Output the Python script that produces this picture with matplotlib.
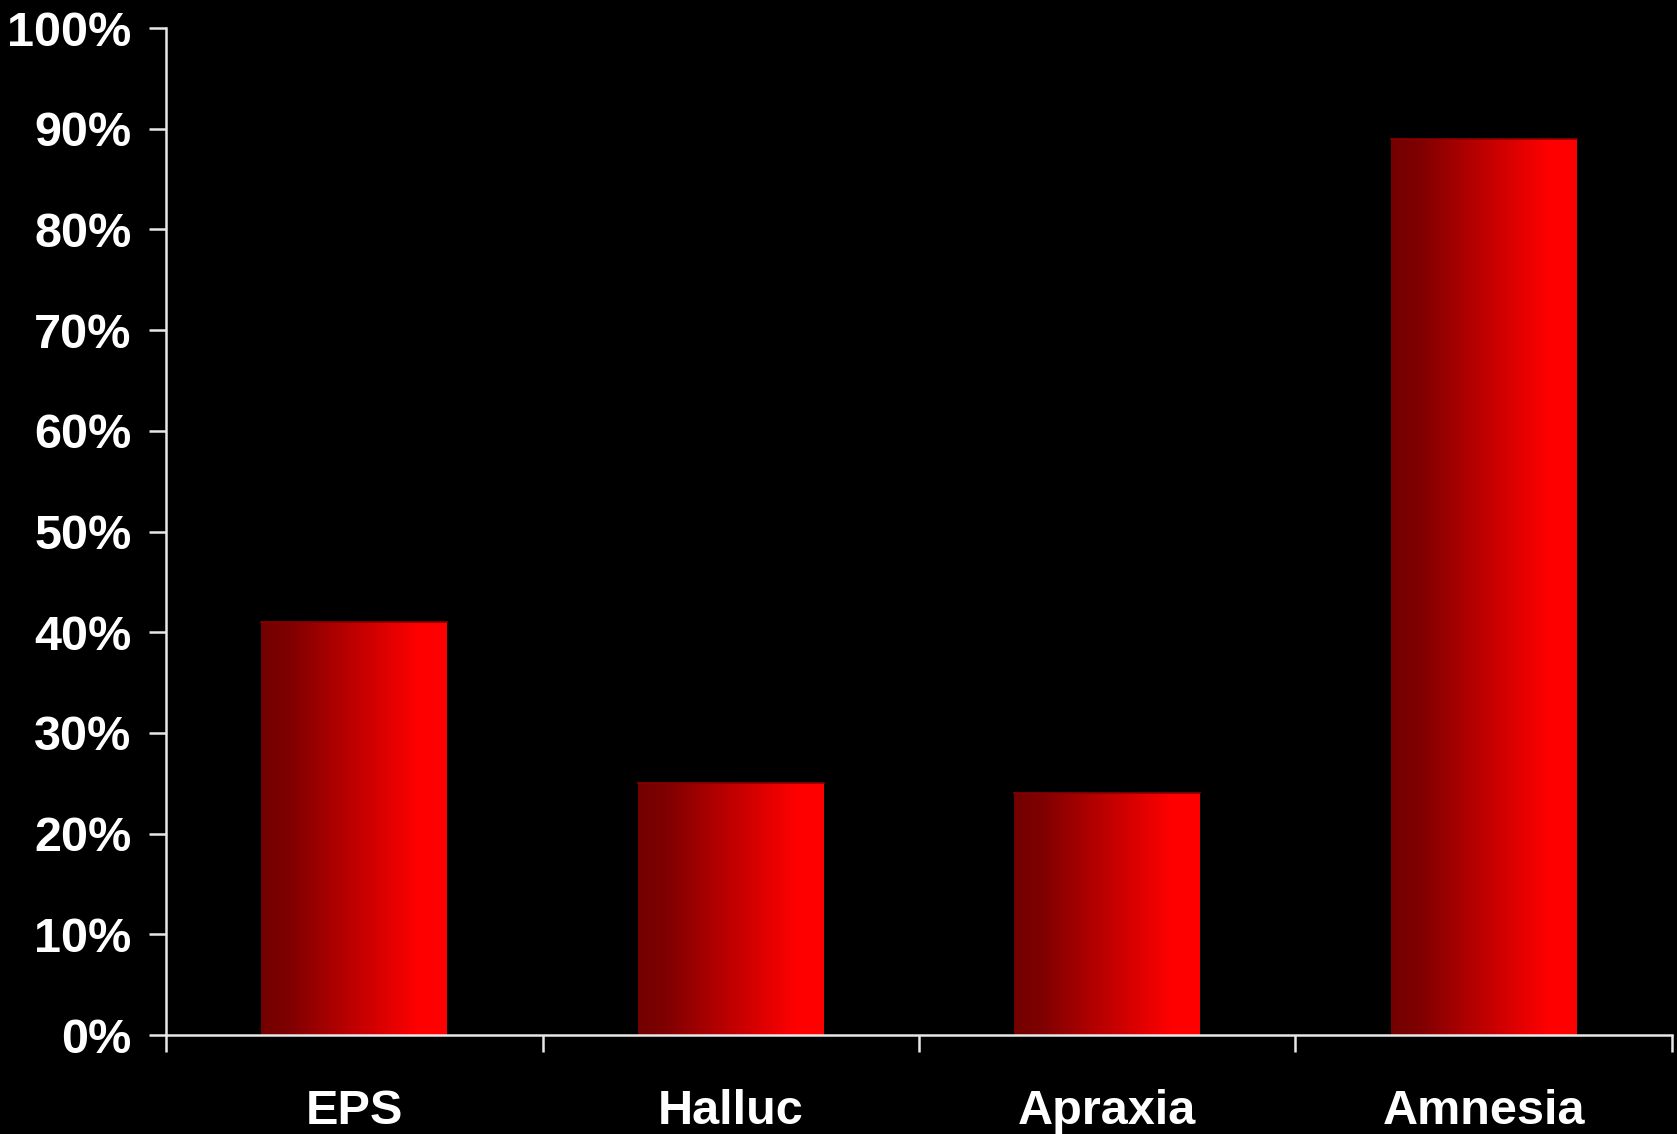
import numpy as np
import matplotlib.pyplot as plt
from matplotlib.colors import LinearSegmentedColormap

# data
categories = ['EPS', 'Halluc', 'Apraxia', 'Amnesia']
values = [41, 25, 24, 89]
yticks = [0, 10, 20, 30, 40, 50, 60, 70, 80, 90, 100]

plt.rcParams['font.family'] = ['Liberation Sans', 'DejaVu Sans']
plt.rcParams['font.weight'] = 'bold'

fig = plt.figure(figsize=(16.77, 11.34), dpi=100, facecolor='black')
ax = fig.add_axes([0.099, 0.0873, 0.898, 0.888])
ax.set_facecolor('black')

# dark red -> bright red horizontal gradient
cmap = LinearSegmentedColormap.from_list(
    'redgrad', [(0.0, (0.45, 0, 0)), (0.15, (0.5, 0, 0)), (0.85, (1, 0, 0)), (1.0, (1, 0, 0))])
grad = np.linspace(0, 1, 256).reshape(1, -1)

x = np.arange(len(categories))
width = 0.494
bars = ax.bar(x, values, width=width, color='none', edgecolor='none', zorder=2)
for b in bars:
    x0, y0 = b.get_x(), b.get_y()
    w, h = b.get_width(), b.get_height()
    im = ax.imshow(grad, cmap=cmap, aspect='auto', extent=[x0, x0 + w, y0, y0 + h],
                   interpolation='bicubic', zorder=2)
    im.set_clip_path(b)
    # thin darker top edge
    ax.plot([x0, x0 + w], [y0 + h, y0 + h], color='#8a0000', lw=1.2, zorder=3)

ax.set_xlim(-0.5, len(categories) - 0.5)
ax.set_ylim(0, 100)

ax.set_yticks(yticks)
ax.set_yticklabels([f'{t}%' for t in yticks])
ax.set_xticks(x)
ax.set_xticklabels(categories)
ax.set_xticks(np.arange(len(categories) + 1) - 0.5, minor=True)

for s in ['top', 'right']:
    ax.spines[s].set_visible(False)
for s in ['left', 'bottom']:
    ax.spines[s].set_color('#e8e8e8')
    ax.spines[s].set_linewidth(1.8)

ax.tick_params(axis='y', colors='#e8e8e8', labelcolor='white', labelsize=35,
               length=12, width=1.8, pad=13, direction='out')
ax.tick_params(axis='x', which='major', length=0, labelcolor='white', labelsize=35, pad=39)
ax.tick_params(axis='x', which='minor', colors='#e8e8e8', length=12, width=1.8, direction='out')

fig.savefig('out.png', dpi=100, facecolor='black')
